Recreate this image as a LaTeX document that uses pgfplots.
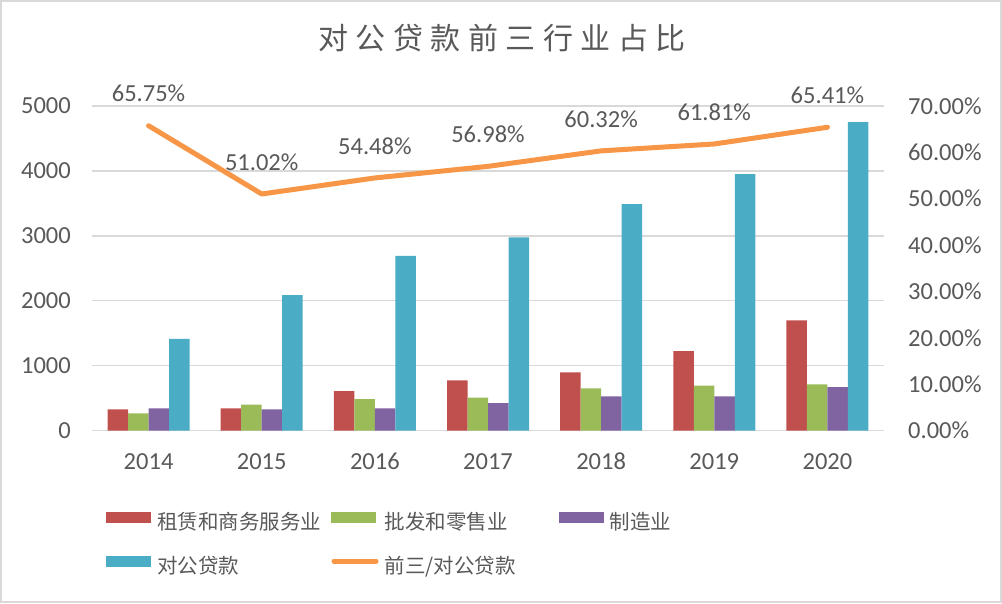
\documentclass[border=0pt]{standalone}
\usepackage{pgfplots}
\pgfplotsset{compat=1.18}
\usepackage{fontspec}
\setmainfont{Carlito}
\newfontfamily\cjk{Noto Sans CJK SC}
\newfontfamily\titlefont[LetterSpace=25]{Noto Sans CJK SC}
\definecolor{txt}{HTML}{595959}
\definecolor{gridc}{HTML}{D9D9D9}
\definecolor{cred}{HTML}{C0504D}
\definecolor{cgreen}{HTML}{9BBB59}
\definecolor{cpurple}{HTML}{8064A2}
\definecolor{cblue}{HTML}{4BACC6}
\definecolor{corange}{HTML}{F79646}
\begin{document}
\begin{tikzpicture}
\useasboundingbox (0pt,0pt) rectangle (1002pt,603pt);
\draw[gridc, line width=2pt] (1pt,1pt) rectangle (1001pt,602pt);
\node[text=txt, font=\titlefont\fontsize{30}{34}\selectfont, anchor=center] at (502pt,565pt) {对公贷款前三行业占比};
\begin{axis}[
  at={(92pt,172.5pt)}, anchor=south west,
  scale only axis, width=792pt, height=324.5pt,
  xmin=-0.5, xmax=6.5, ymin=0, ymax=5000,
  ybar=0pt, bar width=20.5pt,
  axis line style={draw=none},
  major tick length=0pt,
  tick style={draw=none},
  xtick={0,...,6},
  xticklabels={2014,2015,2016,2017,2018,2019,2020},
  ytick={0,1000,...,5000},
  xmajorgrids=false,
  ymajorgrids=true, grid style={draw=gridc, line width=1.4pt},
  /pgf/number format/assume math mode=true,
  /pgf/number format/1000 sep={},
  tick label style={text=txt, font=\fontsize{24.5}{29}\selectfont, inner sep=0pt},
  xticklabel style={anchor=center, yshift=-31pt},
  yticklabel style={anchor=east, xshift=-21pt},
  legend columns=3,
  legend style={at={(0.0177,-0.2499)}, anchor=north west, draw=none, fill=none,
    inner sep=0pt, outer sep=0pt, row sep=21pt,
    /tikz/every odd column/.append style={column sep=6pt},
    nodes={inner sep=0pt, text width=174pt, align=left, text height=15pt, text depth=5pt,
      text=txt, font=\cjk\fontsize{20.5}{24}\selectfont}},
  legend image code/.code={\fill[#1] (0pt,2pt) rectangle (45pt,13pt);},
]
\addplot[fill=cred, draw=none] coordinates {(0,324) (1,340) (2,607) (3,772) (4,895) (5,1224) (6,1698)};
\addlegendentry{租赁和商务服务业}
\addplot[fill=cgreen, draw=none] coordinates {(0,262) (1,400) (2,483) (3,505) (4,648) (5,690) (6,710)};
\addlegendentry{批发和零售业}
\addplot[fill=cpurple, draw=none] coordinates {(0,340) (1,324) (2,340) (3,421) (4,525) (5,525) (6,668)};
\addlegendentry{制造业}
\addplot[fill=cblue, draw=none] coordinates {(0,1412) (1,2085) (2,2689) (3,2977) (4,3490) (5,3950) (6,4750)};
\addlegendentry{对公贷款}
\addlegendimage{legend image code/.code={\draw[corange, line width=5pt, line cap=round] (3pt,7.5pt) -- (45pt,7.5pt);}}
\addlegendentry{前三/对公贷款}
\end{axis}
\begin{axis}[
  at={(92pt,172.5pt)}, anchor=south west,
  scale only axis, width=792pt, height=324.5pt,
  xmin=-0.5, xmax=6.5, ymin=0, ymax=70,
  axis x line=none,
  axis y line*=right,
  axis line style={draw=none},
  major tick length=0pt,
  tick style={draw=none},
  xtick=\empty,
  ytick={0,10,...,70},
  yticklabel={\pgfmathprintnumber[fixed,fixed zerofill,precision=2]{\tick}\%},
  /pgf/number format/assume math mode=true,
  tick label style={text=txt, font=\fontsize{24.5}{29}\selectfont, inner sep=0pt},
  yticklabel style={anchor=west, xshift=24pt},
  clip=false,
]
\addplot[corange, line width=5pt, line cap=round, line join=round, mark=none,
  nodes near coords={\pgfmathprintnumber[fixed,fixed zerofill,precision=2,assume math mode=true]{\pgfplotspointmeta}\%},
  nodes near coords style={anchor=center, yshift=32pt, text=txt, font=\fontsize{24.5}{29}\selectfont, inner sep=0pt},
  point meta=explicit]
  coordinates {(0,65.75) [65.75] (1,51.02) [51.02] (2,54.48) [54.48] (3,56.98) [56.98] (4,60.32) [60.32] (5,61.81) [61.81] (6,65.41) [65.41]};
\end{axis}
\end{tikzpicture}
\end{document}
